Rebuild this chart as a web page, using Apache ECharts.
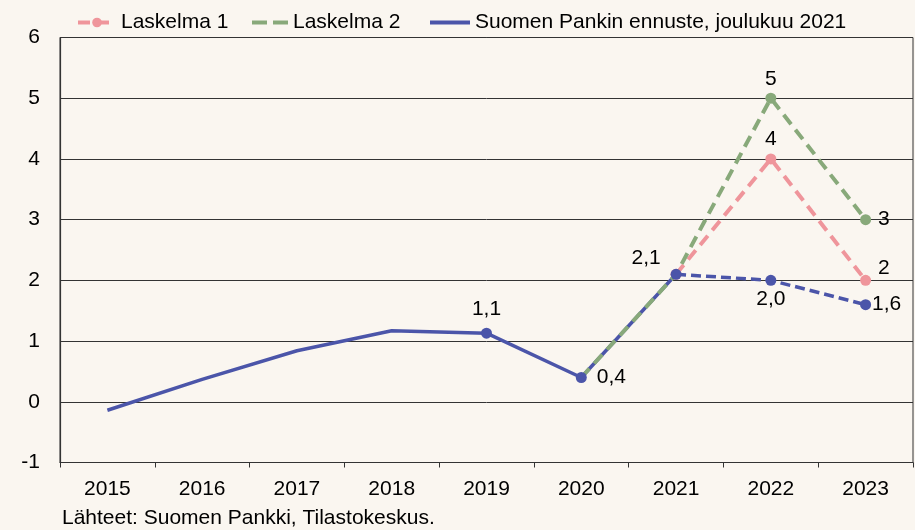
<!DOCTYPE html>
<html>
<head>
<meta charset="utf-8">
<script src="https://cdn.jsdelivr.net/npm/echarts@6/dist/echarts.min.js"></script>
<style>
html,body{margin:0;padding:0;background:#faf6f0;}
#c{width:915px;height:530px;}
</style>
</head>
<body>
<div id="c"></div>
<script>
const years = ['2015','2016','2017','2018','2019','2020','2021','2022','2023'];
const ennuste = [-0.14, 0.37, 0.84, 1.17, 1.13, 0.4, 2.1, 2.0, 1.6];
const laskelma1 = [null, null, null, null, null, null, 2.1, 4, 2];
const laskelma2 = [null, null, null, null, null, 0.4, 2.1, 5, 3];
const yTicks = [-1, 0, 1, 2, 3, 4, 5, 6];

const FONT = '"Liberation Sans", Arial, sans-serif';
const FS = 21;
const BLUE = '#4b55a9', PINK = '#ef959b', GREEN = '#88a97a';

const fmt1 = v => v.toFixed(1).replace('.', ',');

const blueLabelCfg = {
  4: {position: 'top', distance: 8},
  5: {position: 'right', distance: 10},
  6: {position: 'top', distance: 0, offset: [-30, 0]},
  7: {position: 'bottom', distance: 3},
  8: {position: 'right', distance: 1}
};
const greenLabelCfg = {
  7: {position: 'top', distance: 3},
  8: {position: 'right', distance: 7}
};
const pinkLabelCfg = {
  7: {position: 'top', distance: 4},
  8: {position: 'right', distance: 7, offset: [0, -12]}
};
const lblBase = {show: true, color: '#000', fontFamily: FONT, fontSize: FS};
const legText = {fontSize: FS, color: '#000', fontFamily: FONT};

const chart = echarts.init(document.getElementById('c'));
chart.setOption({
  backgroundColor: '#faf6f0',
  animation: false,
  textStyle: {fontFamily: FONT},
  grid: {left: 60, right: 2, top: 37.5, bottom: 67.5, show: true, borderColor: '#333', borderWidth: 1, backgroundColor: 'transparent'},
  legend: [
    {data: ['Laskelma 1'], left: 71, top: 7, itemWidth: 38, itemHeight: 12, textStyle: legText,
     lineStyle: {width: 4}, itemStyle: {borderWidth: 0}},
    {data: [{name: 'Laskelma 2', icon: 'path://M0,0h15v4h-15z M21,0h15v4h-15z'}], left: 247, top: 7, itemWidth: 36, itemHeight: 4, textStyle: legText},
    {data: [{name: 'Suomen Pankin ennuste, joulukuu 2021', icon: 'rect'}], left: 425, top: 7, itemWidth: 40, itemHeight: 4, textStyle: legText}
  ],
  xAxis: {
    type: 'category', data: years, boundaryGap: true,
    axisLine: {onZero: false, lineStyle: {color: '#333', width: 1.2}},
    axisTick: {show: true, length: 5, lineStyle: {color: '#333'}},
    axisLabel: {color: '#000', fontSize: FS, fontFamily: FONT, margin: 16}
  },
  yAxis: {
    type: 'value', min: yTicks[0], max: yTicks[yTicks.length - 1], interval: 1,
    axisLine: {show: true, lineStyle: {color: '#333', width: 1.2}},
    axisTick: {show: false},
    splitLine: {lineStyle: {color: '#333', width: 1}},
    axisLabel: {color: '#000', fontSize: FS, fontFamily: FONT, margin: 20}
  },
  graphic: [{
    type: 'text', left: 62, top: 508,
    style: {text: 'Lähteet: Suomen Pankki, Tilastokeskus.', fill: '#000', font: FS + 'px ' + FONT}
  }],
  series: [
    {
      name: 'Laskelma 1', type: 'line', z: 3,
      data: laskelma1.map((v, i) => ({
        value: v,
        label: pinkLabelCfg[i] ? Object.assign({}, lblBase, pinkLabelCfg[i], {formatter: String(v)}) : {show: false}
      })),
      symbol: 'circle', symbolSize: 11, showSymbol: true,
      itemStyle: {color: PINK},
      lineStyle: {color: PINK, width: 4, type: [12, 7]}
    },
    {
      name: 'Laskelma 2', type: 'line', z: 4,
      symbol: 'none',
      data: laskelma2.map((v, i) => ({
        value: v,
        symbol: (i >= 7) ? 'circle' : 'none',
        symbolSize: 11,
        label: greenLabelCfg[i] ? Object.assign({}, lblBase, greenLabelCfg[i], {formatter: String(v)}) : {show: false}
      })),
      itemStyle: {color: GREEN},
      lineStyle: {color: GREEN, width: 4, type: [12, 7]}
    },
    {
      name: 'Suomen Pankin ennuste, joulukuu 2021', type: 'line', z: 2,
      symbol: 'none',
      data: ennuste.map((v, i) => (i <= 6 ? v : null)),
      itemStyle: {color: BLUE},
      lineStyle: {color: BLUE, width: 3.5}
    },
    {
      name: 'ennuste_dashed', type: 'line', z: 5,
      symbol: 'none',
      data: ennuste.map((v, i) => (i >= 6 ? v : null)),
      itemStyle: {color: BLUE},
      lineStyle: {color: BLUE, width: 3.5, type: [10, 5]}
    },
    {
      name: 'ennuste_dots', type: 'scatter', z: 6,
      symbol: 'circle', symbolSize: 11,
      data: ennuste.map((v, i) => ({
        value: i >= 4 ? v : null,
        label: blueLabelCfg[i] ? Object.assign({}, lblBase, blueLabelCfg[i], {formatter: fmt1(v)}) : {show: false}
      })),
      itemStyle: {color: BLUE, opacity: 1}
    }
  ]
});
</script>
</body>
</html>
